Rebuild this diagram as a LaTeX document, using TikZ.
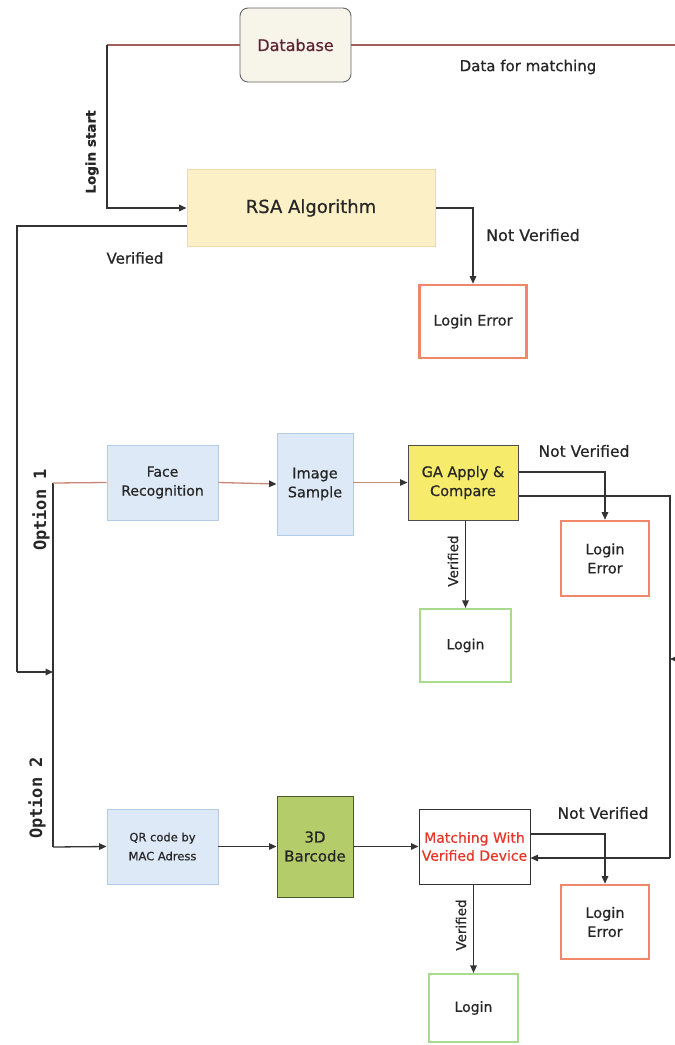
\documentclass[tikz,border=0pt]{standalone}
\usepackage{fontspec}
\setmainfont{DejaVu Sans}[FakeBold=0.6]
\newfontfamily\optfont{DejaVu Sans Mono}
\usetikzlibrary{arrows.meta}

\definecolor{ink}{HTML}{262626}
\definecolor{wire}{HTML}{333333}
\definecolor{brownwire}{HTML}{A0605C}
\definecolor{rosewire}{HTML}{C98778}
\definecolor{dbfill}{HTML}{F7F4EA}
\definecolor{dbtext}{HTML}{5B2333}
\definecolor{rsafill}{HTML}{FCF0C6}
\definecolor{rsaedge}{HTML}{F0DCA2}
\definecolor{erredge}{HTML}{F0866A}
\definecolor{okedge}{HTML}{A8DC8C}
\definecolor{bluefill}{HTML}{DDE9F6}
\definecolor{blueedge}{HTML}{B3CCE6}
\definecolor{gafill}{HTML}{F6EB6A}
\definecolor{barfill}{HTML}{B5CC6A}
\definecolor{baredge}{HTML}{4A5A2A}
\definecolor{matchred}{HTML}{E8352A}

\tikzset{
  box/.style={draw, align=center, inner sep=1pt, text=ink},
  errbox/.style={box, draw=erredge, line width=2.6pt, fill=white,
                 font=\fontsize{14.5}{19}\selectfont},
  okbox/.style={box, draw=okedge, line width=2.2pt, fill=white,
                font=\fontsize{14}{18}\selectfont},
  bluebox/.style={box, draw=blueedge, line width=0.9pt, fill=bluefill},
  arr/.style={draw=wire, line width=1.3pt,
              -{Triangle[length=7.5pt,width=6.5pt,color=wire]}},
  plain/.style={draw=wire, line width=1.3pt},
  lbl/.style={text=ink, inner sep=0pt},
  optlbl/.style={text=ink, inner sep=0pt, rotate=90,
                 font=\optfont\bfseries\fontsize{17}{17}\selectfont}
}

\begin{document}
\begin{tikzpicture}[x=1pt,y=-1pt]
\useasboundingbox (0,0) rectangle (675,1045);
\fill[white] (0,0) rectangle (675,1045);

% ---- nodes ----
\node[box, draw=gray!80!black, line width=0.9pt, fill=dbfill, rounded corners=8pt,
      minimum width=111pt, minimum height=74pt, text=dbtext,
      font=\fontsize{16}{19}\selectfont] (db) at (295.5,45) {Database};

\node[box, draw=rsaedge, line width=1pt, fill=rsafill,
      minimum width=248pt, minimum height=77pt,
      font=\fontsize{18}{21}\selectfont] (rsa) at (311,208) {RSA Algorithm};

\node[errbox, minimum width=107pt, minimum height=73pt] (err1) at (473,321.5) {Login Error};

\node[bluebox, minimum width=111pt, minimum height=75pt,
      font=\fontsize{14}{19}\selectfont] (face) at (162.5,482.5) {Face\\Recognition};
\node[bluebox, minimum width=76pt, minimum height=102pt,
      font=\fontsize{14.5}{19}\selectfont] (img) at (315,484) {Image\\Sample};
\node[box, draw=gray!60!black, line width=1pt, fill=gafill,
      minimum width=110pt, minimum height=75pt,
      font=\fontsize{14.5}{19}\selectfont] (ga) at (463,482.5) {GA Apply \&\\Compare};

\node[errbox, minimum width=88pt, minimum height=75pt] (err2) at (605,558.5) {Login\\Error};
\node[okbox, minimum width=91pt, minimum height=73pt] (login1) at (465.5,645.5) {Login};

\node[bluebox, minimum width=111pt, minimum height=75pt,
      font=\fontsize{11.5}{19}\selectfont] (qr) at (162.5,846.5) {QR code by\\MAC Adress};
\node[box, draw=baredge, line width=1pt, fill=barfill,
      minimum width=76pt, minimum height=101pt,
      font=\fontsize{15}{19}\selectfont] (bar) at (315,846.5) {3D\\Barcode};
\node[box, draw=wire, line width=1pt, fill=white, inner sep=0pt,
      minimum width=111pt, minimum height=75pt, text=matchred,
      font=\fontsize{14}{18}\selectfont] (match) at (474.5,846.5) {Matching With\\Verified Device};

\node[errbox, minimum width=88pt, minimum height=74pt] (err3) at (605,922) {Login\\Error};
\node[okbox, minimum width=89pt, minimum height=68pt] (login2) at (473.5,1008) {Login};

% ---- routing points ----
\coordinate (dbL) at (107,45);
\coordinate (dbR) at (675,45);
\coordinate (rsaOut) at ([yshift=-18pt]rsa.west);
\coordinate (leftTrunk) at (17,672);
\coordinate (optTop) at (53,483);
\coordinate (optMid) at (53,672);
\coordinate (optBot) at (53,847);
\coordinate (gaUp) at ([yshift=10.5pt]ga.east);
\coordinate (gaLow) at ([yshift=-13.5pt]ga.east);
\coordinate (loopTop) at (670,496);
\coordinate (loopBot) at (670,858);
\coordinate (loopIn) at ([yshift=-11.5pt]match.east);
\coordinate (stubR) at (675,659);
\coordinate (stubL) at (670,659);
\coordinate (matchUp) at ([yshift=12.5pt]match.east);

% ---- connectors ----
\draw[brownwire, line width=1.1pt] (db.west) -- (dbL);
\draw[brownwire, line width=1.1pt] (db.east) -- (dbR);
\draw[arr] (dbL) |- (rsa.west);
\draw[arr] (rsa.east) -| (err1.north);
\draw[plain] (rsaOut) -| (leftTrunk);
\draw[arr] (leftTrunk) -- (optMid);
\draw[plain] (optTop) -- (optBot);
\draw[rosewire, line width=1.3pt] (optTop) -- (face.west);
\draw[arr] (optBot) -- (qr.west);

\draw[arr, draw=rosewire] (face.east) -- (img.west);
\draw[arr, draw=rosewire] (img.east |- ga.west) -- (ga.west);
\draw[arr] (gaUp) -| (err2.north);
\draw[plain] (gaLow) -| (loopTop) -- (loopBot);
\draw[arr] (loopBot) -- (loopIn);
\draw[arr] (stubR) -- (stubL);
\draw[arr] (login1.north |- ga.south) -- (login1.north);

\draw[arr] (qr.east) -- (bar.west);
\draw[arr] (bar.east) -- (match.west);
\draw[arr] (matchUp) -| (err3.north);
\draw[arr] (login2.north |- match.south) -- (login2.north);

% ---- labels ----
\node[lbl, rotate=90, font=\bfseries\fontsize{13.5}{16}\selectfont] (lstart) at (92,152) {Login start};
\node[lbl, font=\fontsize{15}{18}\selectfont] (dfm) at (528,67) {Data for matching};
\node[lbl, font=\fontsize{15}{18}\selectfont] (ver0) at (135,258) {Verified};
\node[lbl, font=\fontsize{16}{19}\selectfont] (nv0) at (533,235) {Not Verified};
\node[optlbl] (opt1) at (41,510) {Option 1};
\node[optlbl] (opt2) at (37,798) {Option 2};
\node[lbl, font=\fontsize{15.5}{18}\selectfont] (nv1) at (584,451) {Not Verified};
\node[lbl, rotate=90, font=\fontsize{13.5}{16}\selectfont] (ver1) at (453,561) {Verified};
\node[lbl, font=\fontsize{15.5}{18}\selectfont] (nv2) at (603,813) {Not Verified};
\node[lbl, rotate=90, font=\fontsize{13.5}{16}\selectfont] (ver2) at (461,925) {Verified};
\end{tikzpicture}
\end{document}
